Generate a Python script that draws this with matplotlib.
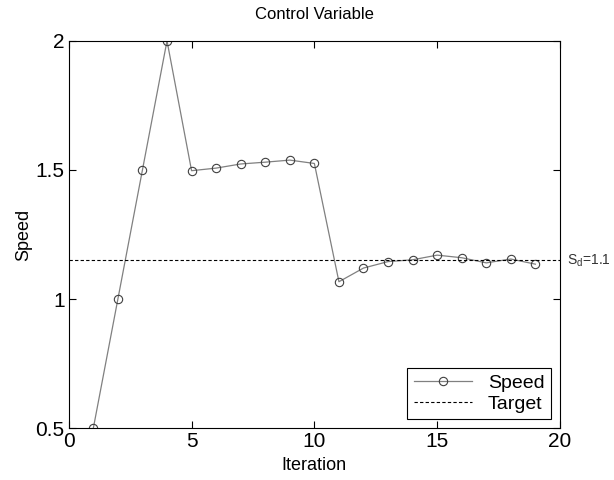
import numpy as np
import matplotlib.pyplot as plt

plt.rcParams['font.family'] = ['Liberation Sans', 'DejaVu Sans']

# data
iterations = list(range(1, 20))
speed = [0.5, 1.0, 1.5, 2.0, 1.497, 1.507, 1.523, 1.530, 1.538, 1.525,
         1.067, 1.120, 1.145, 1.152, 1.170, 1.160, 1.140, 1.155, 1.135]
target = 1.15
target_label = 'S$_\\mathregular{d}$=1.1'
x_ticks = [0, 5, 10, 15, 20]
y_ticks = [0.5, 1, 1.5, 2]
y_tick_labels = ['0.5', '1', '1.5', '2']

fig = plt.figure(figsize=(6.14, 4.8), dpi=100)
ax = fig.add_axes([0.112, 0.108, 0.8, 0.807])

ax.plot(iterations, speed, color='#808080', linewidth=0.9, marker='o',
        markersize=6, markerfacecolor='none', markeredgecolor='#404040',
        markeredgewidth=0.8, label='Speed')
ax.axhline(target, color='black', linestyle=(0, (3, 2)), linewidth=0.8,
           label='Target')
ax.text(20.3, target, target_label, fontsize=10,
        va='center', ha='left', color='#333333', clip_on=False)

ax.set_xlim(0, 20)
ax.set_ylim(0.5, 2)
ax.set_xticks(x_ticks)
ax.set_yticks(y_ticks)
ax.set_yticklabels(y_tick_labels)
ax.tick_params(direction='in', top=True, right=True, labelsize=15, length=5,
               width=0.8, pad=3)
for s in ax.spines.values():
    s.set_linewidth(0.8)

ax.set_title('Control Variable', fontsize=12, pad=16)
ax.set_xlabel('Iteration', fontsize=13, labelpad=4)
ax.set_ylabel('Speed', fontsize=13, labelpad=2)

leg = ax.legend(loc='lower right', fontsize=14, fancybox=False,
                edgecolor='black', framealpha=1, borderaxespad=0.45,
                handlelength=3.0, borderpad=0.35, labelspacing=0.15,
                handletextpad=0.8)
leg.get_frame().set_linewidth(0.8)

fig.savefig('out.png', dpi=100)
